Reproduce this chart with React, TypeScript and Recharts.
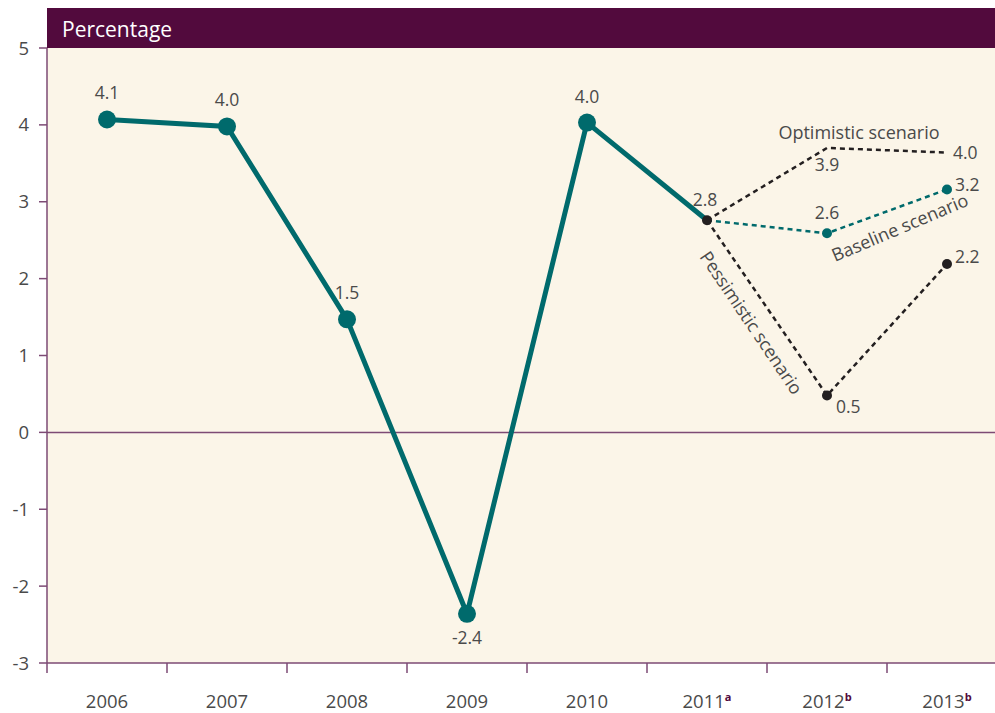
import {
  CartesianGrid,
  LabelList,
  Line,
  LineChart,
  ReferenceLine,
  XAxis,
  YAxis,
} from 'recharts';

const YEARS = ['2006', '2007', '2008', '2009', '2010', '2011', '2012', '2013'];
const YEAR_NOTES = ['', '', '', '', '', 'a', 'b', 'b'];

const ACTUAL = [4.07, 3.98, 1.47, -2.36, 4.03, 2.76, null, null];
const ACTUAL_LABELS = ['4.1', '4.0', '1.5', '-2.4', '4.0', '2.8', '', ''];

const OPTIMISTIC = [null, null, null, null, null, 2.76, 3.7, 3.64];
const OPTIMISTIC_LABELS = ['', '', '', '', '', '', '3.9', '4.0'];

const BASELINE = [null, null, null, null, null, 2.76, 2.59, 3.16];
const BASELINE_LABELS = ['', '', '', '', '', '', '2.6', '3.2'];

const PESSIMISTIC = [null, null, null, null, null, 2.76, 0.48, 2.19];
const PESSIMISTIC_LABELS = ['', '', '', '', '', '', '0.5', '2.2'];

const Y_TICKS = [-3, -2, -1, 0, 1, 2, 3, 4, 5];

const TEAL = '#006a6c';
const INK = '#231f20';
const PURPLE = '#7d4a74';
const HEADER = '#520a3d';
const CREAM = '#fbf5e8';
const TEXT = '#4a4a4a';
const FONT = '"Open Sans", "Noto Sans", sans-serif';

const data = YEARS.map((year, i) => ({
  year,
  note: YEAR_NOTES[i],
  actual: ACTUAL[i],
  optimistic: OPTIMISTIC[i],
  baseline: BASELINE[i],
  pessimistic: PESSIMISTIC[i],
}));

type Place = { dx: number; dy: number; anchor: 'start' | 'middle' | 'end' };

function makeLabel(labels: string[], place: (i: number) => Place) {
  return (props: any) => {
    const { x, y, index } = props;
    const text = labels[index];
    if (!text || x == null || y == null) return null;
    const p = place(index);
    return (
      <text
        x={x + p.dx}
        y={y + p.dy}
        textAnchor={p.anchor}
        fill={TEXT}
        fontSize={17.5}
        fontFamily={FONT}
      >
        {text}
      </text>
    );
  };
}

const actualPlace = (i: number): Place => {
  if (i === 3) return { dx: 0, dy: 30, anchor: 'middle' };
  if (i === 5) return { dx: -2, dy: -14, anchor: 'middle' };
  return { dx: 0, dy: -20, anchor: 'middle' };
};
const optimisticPlace = (i: number): Place =>
  i === 6 ? { dx: 0, dy: 23, anchor: 'middle' } : { dx: 6, dy: 6, anchor: 'start' };
const baselinePlace = (i: number): Place =>
  i === 6 ? { dx: 0, dy: -14, anchor: 'middle' } : { dx: 8, dy: 2, anchor: 'start' };
const pessimisticPlace = (i: number): Place =>
  i === 6 ? { dx: 9, dy: 18, anchor: 'start' } : { dx: 8, dy: -1, anchor: 'start' };

function YearTick(props: any) {
  const { x, y, payload, index } = props;
  const note = YEAR_NOTES[index] ?? '';
  return (
    <g>
      <line x1={x - 60} y1={y} x2={x - 60} y2={y + 10} stroke={PURPLE} strokeWidth={1.5} />
      {index === YEARS.length - 1 && (
        <line x1={x + 60} y1={y} x2={x + 60} y2={y + 10} stroke={PURPLE} strokeWidth={1.5} />
      )}
      <text x={x} y={y + 45} textAnchor="middle" fill={TEXT} fontSize={18.5} fontFamily={FONT}>
        {payload.value}
        {note && (
          <tspan fontSize={11} fontWeight="bold" fill={HEADER} dy={-7}>
            {note}
          </tspan>
        )}
      </text>
    </g>
  );
}

function ActualDot(props: any) {
  const { cx, cy, index } = props;
  if (cx == null || cy == null || index === 5) return null;
  return <circle key={`a${index}`} cx={cx} cy={cy} r={9} fill={TEAL} />;
}

function SmallDot(color: string, skipFirst: boolean) {
  return (props: any) => {
    const { cx, cy, index, value } = props;
    if (cx == null || cy == null || value == null) return null;
    if (skipFirst && index === 5) return null;
    return <circle key={`d${index}`} cx={cx} cy={cy} r={5} fill={color} />;
  };
}

export default function App() {
  return (
    <div
      style={{
        position: 'absolute',
        top: 0,
        left: 0,
        width: 995,
        height: 713,
        overflow: 'hidden',
        background: '#fff',
        fontFamily: FONT,
      }}
    >
      <LineChart
        width={1010}
        height={713}
        data={data}
        margin={{ top: 48, right: 3, left: 0, bottom: 0 }}
      >
        <CartesianGrid fill={CREAM} stroke="none" horizontal={false} vertical={false} />
        <XAxis
          dataKey="year"
          padding={{ left: 60, right: 60 }}
          height={50}
          tickSize={0}
          tickMargin={0}
          tickLine={false}
          axisLine={{ stroke: PURPLE, strokeWidth: 1.5 }}
          tick={<YearTick />}
          interval={0}
        />
        <YAxis
          width={47}
          domain={[-3, 5]}
          ticks={Y_TICKS}
          interval={0}
          tickSize={8}
          tickMargin={10}
          axisLine={{ stroke: PURPLE, strokeWidth: 1.5 }}
          tickLine={{ stroke: PURPLE, strokeWidth: 1.5 }}
          tick={{ fill: TEXT, fontSize: 18.5, fontFamily: FONT }}
        />
        <ReferenceLine y={0} stroke={PURPLE} strokeWidth={1.5} />
        <Line
          dataKey="actual"
          stroke={TEAL}
          strokeWidth={5}
          dot={<ActualDot />}
          activeDot={false}
          isAnimationActive={false}
        >
          <LabelList dataKey="actual" content={makeLabel(ACTUAL_LABELS, actualPlace)} />
        </Line>
        <Line
          dataKey="optimistic"
          stroke={INK}
          strokeWidth={2.5}
          strokeDasharray="5 4"
          dot={false}
          activeDot={false}
          isAnimationActive={false}
        >
          <LabelList dataKey="optimistic" content={makeLabel(OPTIMISTIC_LABELS, optimisticPlace)} />
        </Line>
        <Line
          dataKey="baseline"
          stroke={TEAL}
          strokeWidth={2.5}
          strokeDasharray="5 4"
          dot={SmallDot(TEAL, true)}
          activeDot={false}
          isAnimationActive={false}
        >
          <LabelList dataKey="baseline" content={makeLabel(BASELINE_LABELS, baselinePlace)} />
        </Line>
        <Line
          dataKey="pessimistic"
          stroke={INK}
          strokeWidth={2.5}
          strokeDasharray="5 4"
          dot={SmallDot(INK, false)}
          activeDot={false}
          isAnimationActive={false}
        >
          <LabelList dataKey="pessimistic" content={makeLabel(PESSIMISTIC_LABELS, pessimisticPlace)} />
        </Line>
      </LineChart>

      {/* header band above the plot */}
      <div
        style={{
          position: 'absolute',
          left: 47,
          top: 8,
          width: 960,
          height: 40,
          background: HEADER,
          color: '#fff',
          fontSize: 21,
          lineHeight: '42px',
          paddingLeft: 15,
          boxSizing: 'border-box',
        }}
      >
        Percentage
      </div>

      {/* scenario captions */}
      <svg
        width={995}
        height={713}
        style={{ position: 'absolute', left: 0, top: 0, pointerEvents: 'none' }}
      >
        <g fill={TEXT} fontSize={18} fontFamily={FONT} textAnchor="middle">
          <text x={859} y={139}>Optimistic scenario</text>
          <text x={900} y={234} transform="rotate(-23 900 228)">Baseline scenario</text>
          <text x={751} y={329} transform="rotate(56 751 323)">Pessimistic scenario</text>
        </g>
      </svg>
    </div>
  );
}
